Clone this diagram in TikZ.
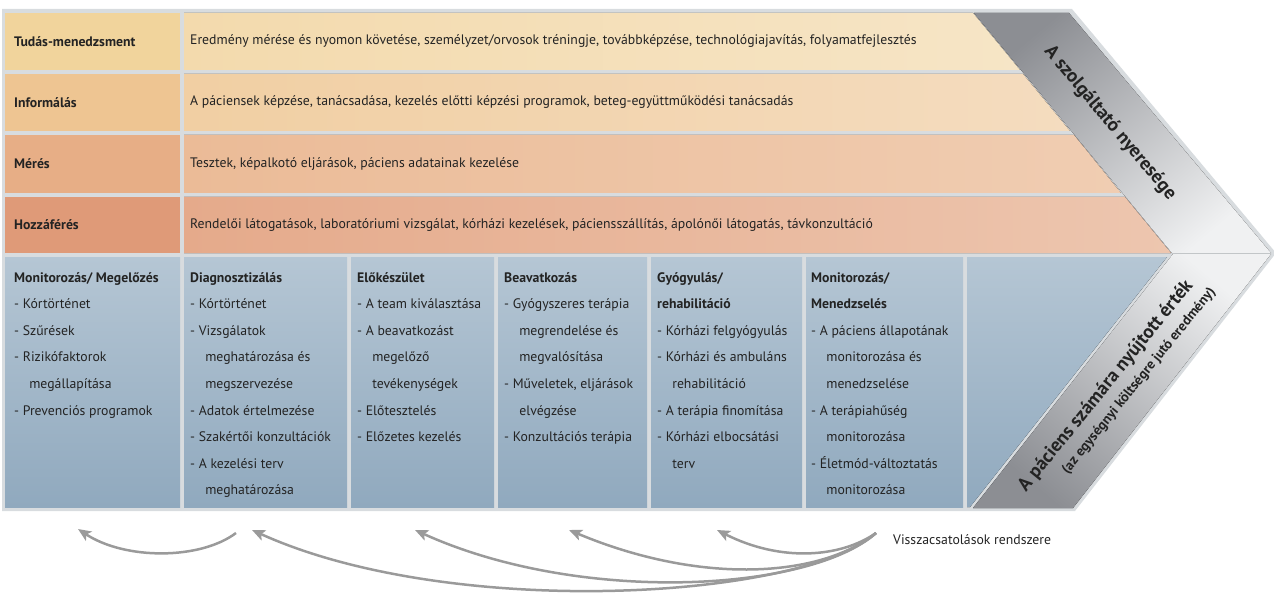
\documentclass[tikz,border=0pt]{standalone}
\usepackage{fontspec}
\setmainfont{PT Sans}
\usetikzlibrary{arrows.meta}
\definecolor{frameclr}{HTML}{D8DCDF}
\definecolor{txtclr}{HTML}{232323}
\definecolor{lblA}{HTML}{F1D49C}
\definecolor{rowAl}{HTML}{F3DAAD}
\definecolor{rowAr}{HTML}{F6E5C6}
\definecolor{lblB}{HTML}{EEC592}
\definecolor{rowBl}{HTML}{F1CFA3}
\definecolor{rowBr}{HTML}{F4DCBF}
\definecolor{lblC}{HTML}{E7AE86}
\definecolor{rowCl}{HTML}{EBBB97}
\definecolor{rowCr}{HTML}{F0CDB2}
\definecolor{lblD}{HTML}{DF9A78}
\definecolor{rowDl}{HTML}{E5AA8B}
\definecolor{rowDr}{HTML}{EDC6AF}
\definecolor{blueTop}{HTML}{B5C6D4}
\definecolor{blueBot}{HTML}{90A9BE}
\definecolor{bandDark}{HTML}{8C8E93}
\definecolor{bandLight}{HTML}{F0F1F2}
\definecolor{arrowclr}{HTML}{9A9A9A}
\newcommand\contind{\hspace*{1.1em}}
\tikzset{
  every node/.style={text=txtclr, font=\fontsize{13.75}{26.6}\selectfont},
  rowlabel/.style={anchor=west, inner sep=0, font=\bfseries\fontsize{13.75}{16}\selectfont},
  rowtext/.style={anchor=west, inner sep=0},
  colbox/.style={anchor=north west, align=left, inner sep=0},
  sidetext/.style={inner sep=0, font=\bfseries\fontsize{19}{21}\selectfont},
  subtext/.style={inner sep=0, font=\bfseries\fontsize{14}{16}\selectfont},
  fbarrow/.style={draw=arrowclr, line width=2.5pt, -{Stealth[length=13pt,width=11pt,inset=3pt]}}
}
\begin{document}
\begin{tikzpicture}[x=1pt,y=-1pt]
  \useasboundingbox (0,0) rectangle (1274,596);
  % frame of the chevron
  \fill[frameclr] (2,9) -- (1072,9) -- (1276,253) -- (1075,511) -- (2,511) -- cycle;

  % rows
  \fill[lblA] (5,13) rectangle (180,70);
  \fill[left color=rowAl, right color=rowAr] (184,13) -- (973,13) -- (1020,70) -- (184,70) -- cycle;
  \fill[lblB] (5,74) rectangle (180,131);
  \fill[left color=rowBl, right color=rowBr] (184,74) -- (1023,74) -- (1070,131) -- (184,131) -- cycle;
  \fill[lblC] (5,135) rectangle (180,193);
  \fill[left color=rowCl, right color=rowCr] (184,135) -- (1074,135) -- (1121,193) -- (184,193) -- cycle;
  \fill[lblD] (5,197) rectangle (180,253);
  \fill[left color=rowDl, right color=rowDr] (184,197) -- (1125,197) -- (1171,253) -- (184,253) -- cycle;

  % gray bands
  \fill[top color=bandDark, bottom color=bandLight, shading angle=40] (974,13) -- (1069,13) -- (1271,253) -- (1172,253) -- cycle;
  \fill[top color=bandLight, bottom color=bandDark, shading angle=-40] (1173,254) -- (1271,254) -- (1073,508) -- (973,508) -- cycle;

  % columns
  \fill[top color=blueTop, bottom color=blueBot] (5,257) rectangle (180,507);
  \fill[top color=blueTop, bottom color=blueBot] (184,257) rectangle (347,507);
  \fill[top color=blueTop, bottom color=blueBot] (351,257) rectangle (494,507);
  \fill[top color=blueTop, bottom color=blueBot] (498,257) rectangle (647,507);
  \fill[top color=blueTop, bottom color=blueBot] (651,257) rectangle (802,507);
  \fill[top color=blueTop, bottom color=blueBot] (806,257) rectangle (963,507);
  \fill[top color=blueTop, bottom color=blueBot] (967,257) -- (1167,257) -- (970,507) -- (967,507) -- cycle;

  % row texts
  \node[rowlabel] (lbl1) at (14,41.5) {Tudás-menedzsment};
  \node[rowtext] (row1) at (190,41.5) {Eredmény mérése és nyomon követése, személyzet/orvosok tréningje, továbbképzése, technológiajavítás, folyamatfejlesztés};
  \node[rowlabel] (lbl2) at (14,102.5) {Informálás};
  \node[rowtext] (row2) at (190,102.5) {A páciensek képzése, tanácsadása, kezelés előtti képzési programok, beteg-együttműködési tanácsadás};
  \node[rowlabel] (lbl3) at (14,164) {Mérés};
  \node[rowtext] (row3) at (190,164) {Tesztek, képalkotó eljárások, páciens adatainak kezelése};
  \node[rowlabel] (lbl4) at (14,225) {Hozzáférés};
  \node[rowtext] (row4) at (190,225) {Rendelői látogatások, laboratóriumi vizsgálat, kórházi kezelések, páciensszállítás, ápolónői látogatás, távkonzultáció};

  % column texts
  \node[colbox] (col1) at (14,272) {\textbf{Monitorozás/ Megelőzés}\\- Kórtörténet\\- Szűrések\\- Rizikófaktorok\\\contind megállapítása\\- Prevenciós programok};
  \node[colbox] (col2) at (190,272) {\textbf{Diagnosztizálás}\\- Kórtörténet\\- Vizsgálatok\\\contind meghatározása és\\\contind megszervezése\\- Adatok értelmezése\\- Szakértői konzultációk\\- A kezelési terv\\\contind meghatározása};
  \node[colbox] (col3) at (357,272) {\textbf{Előkészület}\\- A team kiválasztása\\- A beavatkozást\\\contind megelőző\\\contind tevékenységek\\- Előtesztelés\\- Előzetes kezelés};
  \node[colbox] (col4) at (504,272) {\textbf{Beavatkozás}\\- Gyógyszeres terápia\\\contind megrendelése és\\\contind megvalósítása\\- Műveletek, eljárások\\\contind elvégzése\\- Konzultációs terápia};
  \node[colbox] (col5) at (657,272) {\textbf{Gyógyulás/}\\\textbf{rehabilitáció}\\- Kórházi felgyógyulás\\- Kórházi és ambuláns\\\contind rehabilitáció\\- A terápia finomítása\\- Kórházi elbocsátási\\\contind terv};
  \node[colbox] (col6) at (811,272) {\textbf{Monitorozás/}\\\textbf{Menedzselés}\\- A páciens állapotának\\\contind monitorozása és\\\contind menedzselése\\- A terápiahűség\\\contind monitorozása\\- Életmód-változtatás\\\contind monitorozása};

  % band texts
  \node[sidetext, rotate=-50] (gain) at (1110,123) {A szolgáltató nyeresége};
  \node[sidetext, rotate=51] (value) at (1106,386) {A páciens számára nyújtott érték};
  \node[subtext, rotate=51] (valsub) at (1139,381) {(az egységnyi költségre jutó eredmény)};

  % feedback arrows
  \node[anchor=west, inner sep=0] (fb) at (893,540) {Visszacsatolások rendszere};
  \coordinate (fbtail) at (876,533);
  \coordinate (t1) at (236,533);
  \coordinate (h1) at (78,529);
  \coordinate (h2) at (252,530);
  \coordinate (h3) at (415,530);
  \coordinate (h4) at (569,530);
  \coordinate (h5) at (717,530);
  \draw[fbarrow] (t1) .. controls (200,560) and (125,560) .. (h1);
  \draw[fbarrow] (fbtail) .. controls (800,600) and (450,620) .. (h2);
  \draw[fbarrow] (fbtail) .. controls (810,592) and (580,605) .. (h3);
  \draw[fbarrow] (fbtail) .. controls (820,578) and (700,585) .. (h4);
  \draw[fbarrow] (fbtail) .. controls (840,558) and (780,562) .. (h5);
\end{tikzpicture}
\end{document}
